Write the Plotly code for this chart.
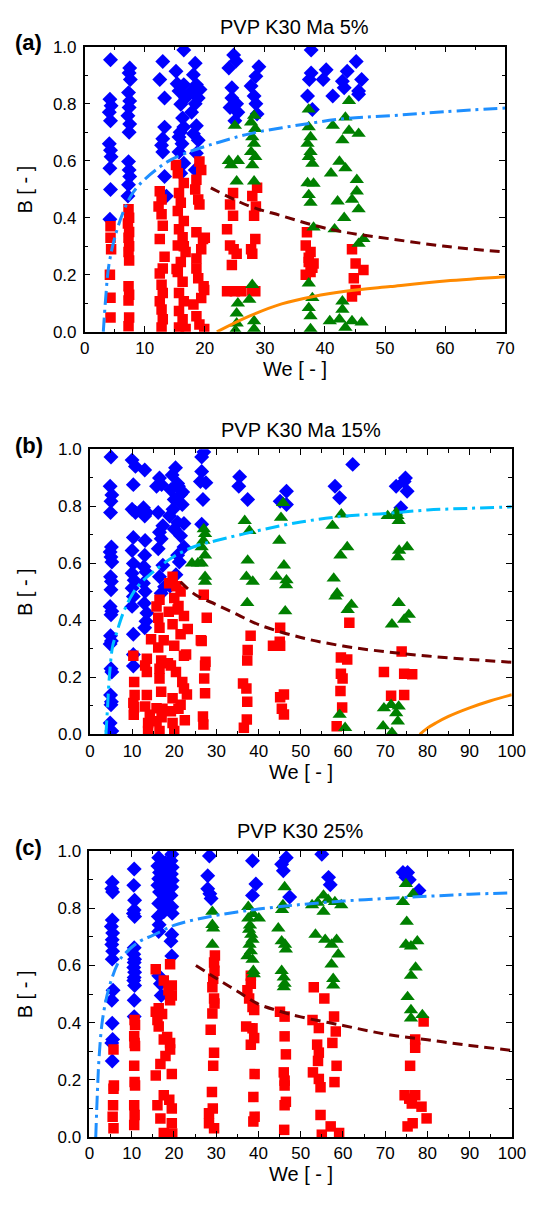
import plotly.graph_objects as go

W, H = 538, 1209
FONT = "Liberation Sans, Arial, sans-serif"

# ---------------- Panel (a): PVP K30 Ma 5% ----------------
a_blue_we = [4.3,4.2,4.4,4.1,4.3,4.1,4.3,4.4,4.2,4.3,4.2,
             7.5,7.4,7.6,7.3,7.5,7.4,7.2,7.5,7.4,7.3,7.4,7.5,7.3,7.2,
             13.0,12.5,13.3,13.3,13.0,12.8,13.0,13.3,13.6,
             16.5,15.2,16.5,15.7,16.8,16.0,16.5,15.7,16.2,15.7,16.5,16.0,15.4,16.3,15.9,
             18.4,18.1,18.6,18.1,18.9,18.4,17.8,18.6,18.1,18.9,18.6,18.4,19.2,17.6,
             24.8,25.2,24.0,24.5,24.5,24.2,25.5,25.0,25.3,
             29.0,28.5,27.7,28.2,28.5,28.7,
             37.7,37.7,37.4,37.1,37.9,
             40.2,39.7,41.3,
             45.2,43.7,42.9,43.2,46.1,45.6,45.6]
a_blue_b = [0.954,0.816,0.793,0.77,0.74,0.66,0.637,0.614,0.574,0.499,0.395,
            0.925,0.908,0.885,0.839,0.81,0.787,0.758,0.729,0.70,0.597,0.568,0.545,0.516,0.476,
            0.948,0.885,0.82,0.718,0.677,0.654,0.631,0.545,0.476,
            0.988,0.914,0.867,0.845,0.82,0.798,0.718,0.683,0.66,0.631,0.591,0.556,0.87,0.75,0.70,
            0.942,0.902,0.867,0.845,0.82,0.80,0.77,0.723,0.695,0.672,0.626,0.568,0.85,0.84,
            0.971,0.95,0.925,0.856,0.82,0.787,0.77,0.74,0.80,
            0.93,0.896,0.862,0.827,0.80,0.764,
            0.988,0.908,0.885,0.827,0.78,
            0.919,0.885,0.827,
            0.948,0.914,0.879,0.856,0.885,0.845,0.833]

a_red_we = [4.3,4.3,4.4,4.2,4.3,4.3,
            7.3,7.4,7.2,7.4,7.3,7.4,7.3,7.4,7.3,7.4,7.3,7.4,7.3,
            12.5,12.8,12.3,12.8,13.0,12.5,13.3,13.0,12.5,12.8,13.0,12.5,12.8,13.0,12.8,
            15.2,15.5,16.5,15.7,16.0,15.5,16.5,15.7,16.3,15.5,16.8,16.0,15.5,16.3,15.7,16.5,15.7,16.3,15.7,16.8,16.5,15.3,
            19.1,19.4,18.6,18.4,18.9,19.1,18.6,19.7,19.4,18.6,18.6,18.9,19.9,19.4,18.1,18.6,19.1,19.9,20.0,19.8,
            24.7,24.2,24.7,23.7,24.2,25.3,24.5,23.7,25.0,26.1,24.8,
            28.7,27.9,28.2,28.4,27.7,27.9,28.4,27.9,28.5,
            37.0,36.8,37.6,37.3,38.1,37.6,36.8,37.3,37.9,
            44.5,45.1,46.4,44.8,45.1,44.5]
a_red_b = [0.37,0.33,0.29,0.20,0.12,0.05,
           0.43,0.40,0.38,0.35,0.33,0.30,0.28,0.25,0.16,0.13,0.11,0.05,0.02,
           0.493,0.464,0.44,0.412,0.372,0.326,0.263,0.222,0.205,0.165,0.136,0.107,0.078,0.044,0.015,
           0.585,0.556,0.522,0.487,0.453,0.424,0.389,0.36,0.332,0.303,0.28,0.245,0.21,0.176,0.136,0.107,0.073,0.044,0.015,0.01,0.30,0.22,
           0.597,0.568,0.533,0.499,0.464,0.447,0.349,0.326,0.29,0.257,0.222,0.188,0.147,0.119,0.096,0.055,0.026,0.01,0.33,0.16,
           0.487,0.447,0.407,0.36,0.303,0.274,0.234,0.142,0.142,0.142,0.29,
           0.505,0.476,0.407,0.326,0.29,0.274,0.142,0.145,0.44,
           0.349,0.303,0.28,0.245,0.24,0.21,0.2,0.26,0.225,
           0.29,0.24,0.217,0.188,0.147,0.124]

a_green_we = [25.0,24.0,25.5,24.4,25.3,25.5,25.3,25.3,25.1,
              28.2,27.7,28.4,27.9,28.2,27.7,28.4,27.9,28.2,27.9,27.4,28.2,28.2,
              37.3,37.3,37.6,37.1,37.6,37.3,37.9,37.1,38.1,37.3,37.6,38.1,37.3,37.9,37.3,37.6,37.6,
              44.0,43.4,41.3,44.0,45.6,42.9,42.4,43.4,41.0,45.3,45.3,44.5,42.1,45.6,43.2,41.6,46.4,45.6,
              40.8,42.4,44.5,46.1,43.4,42.9,42.9]
a_green_b = [0.723,0.60,0.60,0.585,0.528,0.10,0.065,0.03,0.005,
             0.758,0.735,0.712,0.683,0.66,0.631,0.614,0.585,0.528,0.165,0.113,0.038,0.01,
             0.78,0.718,0.683,0.66,0.631,0.614,0.59,0.522,0.52,0.48,0.453,0.366,0.17,0.119,0.084,0.055,0.01,
             0.81,0.752,0.723,0.706,0.695,0.672,0.597,0.574,0.556,0.533,0.493,0.464,0.458,0.43,0.40,0.36,0.326,0.309,
             0.038,0.044,0.038,0.033,0.015,0.107,0.078]

a_lim_we = [3.1,3.5,4,5,6.6,8,10,13.8,16,20,22.5,27.5,35,43,51,60,70]
a_lim_b = [0,0.12,0.23,0.33,0.43,0.487,0.535,0.597,0.62,0.65,0.666,0.695,0.723,0.747,0.758,0.772,0.785]
a_mid_we = [21,22.1,27.4,32.8,38.1,43.4,50.9,60,70]
a_mid_b = [0.505,0.493,0.441,0.407,0.374,0.349,0.326,0.30,0.28]
a_low_we = [22,27.4,32.8,38.1,43.4,50.9,60,70]
a_low_b = [0,0.055,0.098,0.124,0.142,0.159,0.178,0.193]

# ---------------- Panel (b): PVP K30 Ma 15% ----------------
b_blue_we = [5.0,4.8,5.2,5.0,4.9,5.1,4.8,5.0,5.2,4.9,5.1,5.0,4.8,5.2,5.0,4.9,5.1,4.8,5.0,5.2,4.9,5.1,5.0,4.8,5.2,
             10.0,10.8,10.3,10.0,10.8,10.3,10.0,10.3,10.0,10.5,10.0,10.3,10.0,10.3,10.3,10.3,
             13.0,12.7,13.5,13.0,13.1,13.0,12.8,13.3,12.7,13.1,12.9,13.5,13.3,13.0,
             16.5,17.0,16.2,17.3,16.5,16.9,16.2,17.3,16.5,17.7,16.9,15.8,
             19.5,20.8,19.2,21.5,20.0,21.9,18.9,20.8,20.0,21.5,22.3,20.8,21.2,20.3,22.0,21.0,19.7,22.3,20.4,19.0,
             27.0,26.5,26.5,26.2,27.5,26.8,26.5,
             35.5,35.3,37.4,46.6,45.1,46.6,58.1,59.2,62.3,74.8,74.5,72.6,75.2,73.7]
b_blue_b = [0.973,0.87,0.84,0.818,0.778,0.657,0.64,0.622,0.605,0.553,0.536,0.507,0.449,0.432,0.42,0.346,0.328,0.317,0.23,0.219,0.138,0.115,0.104,0.04,0.012,
            0.962,0.94,0.876,0.79,0.778,0.691,0.645,0.599,0.565,0.541,0.513,0.484,0.449,0.351,0.28,0.24,
            0.927,0.795,0.778,0.766,0.68,0.628,0.588,0.57,0.53,0.501,0.46,0.426,0.397,0.374,
            0.899,0.876,0.778,0.732,0.709,0.686,0.651,0.593,0.553,0.518,0.495,0.87,
            0.91,0.88,0.858,0.841,0.824,0.806,0.766,0.743,0.72,0.697,0.657,0.628,0.605,0.935,0.85,0.87,0.79,0.74,0.56,0.52,
            0.99,0.973,0.922,0.887,0.883,0.824,0.737,
            0.904,0.87,0.824,0.853,0.818,0.806,0.87,0.83,0.947,0.899,0.887,0.87,0.853,0.795]

b_red_we = [10.3,10.5,10.6,10.3,10.5,10.4,
            14.5,13.5,13.1,13.5,13.5,13.1,14.2,13.8,13.8,
            16.5,15.8,16.2,16.5,16.2,16.9,16.5,16.5,16.9,15.8,15.8,16.5,17.5,17.2,17.0,
            19.6,18.8,21.5,20.0,20.8,22.3,19.6,21.5,20.0,22.3,19.2,20.4,21.9,22.3,19.6,21.5,19.2,19.6,20.0,
            18.5,21.0,22.5,23.0,23.2,22.8,21.0,18.7,20.5,
            27.0,27.7,26.5,27.3,27.1,27.3,26.8,26.9,26.3,27.4,
            38.1,37.4,37.3,36.3,37.1,37.3,37.2,36.5,
            45.1,43.4,45.1,45.0,46.0,45.1,45.5,46.0,
            61.5,59.5,61.0,59.5,59.9,59.4,59.8,58.5,
            73.9,69.7,74.5,76.4,71.4,74.5]
b_red_b = [0.276,0.184,0.138,0.11,0.095,0.069,
           0.334,0.265,0.242,0.219,0.138,0.098,0.069,0.04,0.012,
           0.472,0.449,0.409,0.374,0.305,0.259,0.23,0.196,0.15,0.092,0.046,0.012,0.33,0.09,0.06,
           0.553,0.53,0.501,0.478,0.438,0.415,0.386,0.351,0.311,0.276,0.242,0.219,0.184,0.161,0.127,0.104,0.081,0.04,0.012,
           0.25,0.09,0.05,0.14,0.37,0.28,0.45,0.43,0.52,
           0.49,0.409,0.328,0.242,0.196,0.144,0.063,0.035,0.33,0.255,
           0.346,0.296,0.259,0.179,0.161,0.115,0.052,0.023,
           0.374,0.311,0.311,0.325,0.14,0.13,0.09,0.07,
           0.392,0.27,0.263,0.213,0.196,0.152,0.094,0.029,
           0.291,0.219,0.213,0.211,0.136,0.138]

b_green_we = [27.3,26.9,26.5,27.3,24.2,26.5,27.3,27.3,25.6,27.0,
              36.7,37.8,37.4,37.1,38.6,37.3,
              45.8,45.3,44.9,46.0,44.2,46.6,46.5,46.3,
              59.6,57.5,61.0,59.4,57.8,58.6,58.2,62.0,61.1,59.2,60.5,
              70.6,72.9,73.2,72.6,75.2,73.3,73.0,73.2,75.6,74.5,71.6,69.7,71.4,73.2,72.6,73.0,69.5,71.6]
b_green_b = [0.703,0.68,0.657,0.628,0.60,0.60,0.553,0.536,0.60,0.72,
             0.749,0.714,0.61,0.553,0.536,0.461,
             0.812,0.76,0.68,0.593,0.553,0.541,0.524,0.432,
             0.772,0.732,0.657,0.628,0.547,0.495,0.484,0.455,0.437,0.069,0.023,
             0.766,0.766,0.749,0.778,0.657,0.645,0.622,0.461,0.42,0.403,0.386,0.092,0.104,0.098,0.075,0.046,0.029,0.006]

b_lim_we = [3.8,4.2,4.6,5.4,6.2,8,10,12,15,20,25,30,40,50,60,70,80,90,100]
b_lim_b = [0,0.1,0.2,0.31,0.35,0.43,0.49,0.53,0.57,0.625,0.66,0.68,0.715,0.745,0.765,0.775,0.787,0.793,0.798]
b_mid_we = [21.5,25,30,35,40,50,60,70,80,90,100]
b_mid_b = [0.535,0.49,0.455,0.42,0.385,0.34,0.31,0.29,0.275,0.263,0.253]
b_low_we = [78.2,80,82,85,90,95,100]
b_low_b = [0,0.022,0.04,0.063,0.093,0.118,0.139]

# ---------------- Panel (c): PVP K30 25% ----------------
c_blue_we = [5.4,5.3,5.5,5.4,5.2,5.5,5.4,5.3,5.5,5.4,5.6,5.3,5.4,5.5,5.3,5.4,
             10.6,10.5,10.7,10.6,10.4,10.7,10.6,10.5,10.7,10.6,10.5,10.7,10.6,10.5,10.7,10.6,10.6,
             16.4,16.2,16.6,16.4,16.2,16.6,16.4,16.3,16.5,16.4,
             18.0,17.8,18.2,18.0,17.9,18.1,
             19.5,19.3,19.6,19.4,19.6,19.5,19.3,19.5,19.6,19.5,19.3,19.5,
             16.4,16.8,17.0,17.6,17.6,
             28.4,28.0,28.0,28.5,28.8,
             38.6,39.4,38.6,45.5,46.6,45.9,47.4,55.0,56.6,57.0,74.2,75.3,74.9,75.7,78.0]
c_blue_b = [0.891,0.868,0.857,0.759,0.736,0.713,0.69,0.673,0.65,0.622,0.513,0.478,0.398,0.341,0.329,0.266,
            0.937,0.88,0.828,0.794,0.782,0.771,0.662,0.639,0.622,0.61,0.593,0.576,0.558,0.547,0.53,0.478,0.421,
            0.977,0.948,0.925,0.903,0.88,0.857,0.817,0.771,0.742,0.719,
            0.96,0.937,0.908,0.885,0.862,0.84,
            0.989,0.966,0.943,0.92,0.897,0.874,0.845,0.805,0.782,0.708,0.685,0.633,
            0.564,0.536,0.495,0.822,0.788,
            0.983,0.914,0.868,0.851,0.834,
            0.966,0.885,0.845,0.954,0.977,0.931,0.839,0.989,0.908,0.882,0.925,0.925,0.908,0.90,0.862]

c_red_we = [5.7,5.8,5.7,5.6,5.5,5.7,
            10.7,10.8,10.6,10.7,10.8,10.6,10.7,10.8,10.6,10.7,10.6,
            19.1,15.7,17.6,19.5,18.7,19.5,19.1,16.4,15.7,16.1,16.4,17.6,19.1,19.1,18.0,16.8,15.7,19.5,17.6,16.1,19.5,16.8,19.5,17.6,18.4,17.2,18.9,19.6,
            29.7,29.5,29.6,29.3,29.1,29.5,29.6,29.1,28.7,29.5,29.3,29.0,29.2,28.3,28.3,29.5,
            38.2,38.2,37.4,37.8,38.6,39.0,37.1,38.6,39.0,38.2,39.1,38.8,39.1,38.8,
            45.1,46.2,46.2,46.5,46.0,46.2,46.2,46.5,46.2,46.1,
            53.1,55.6,57.9,52.8,54.3,58.3,57.5,53.9,54.3,54.1,58.5,52.9,54.3,54.7,58.0,54.7,57.1,55.0,59.1,
            79.1,77.1,77.1,75.9,74.6,77.1,75.7,76.3,78.6,79.8,76.5,75.3]
c_red_b = [0.306,0.18,0.169,0.111,0.071,0.031,
           0.409,0.392,0.352,0.329,0.318,0.249,0.192,0.18,0.111,0.077,0.042,
           0.604,0.587,0.547,0.53,0.513,0.495,0.478,0.45,0.438,0.409,0.386,0.341,0.329,0.306,0.283,0.255,0.215,0.22,0.146,0.111,0.10,0.065,0.048,0.014,0.35,0.43,0.13,0.012,
           0.635,0.61,0.581,0.553,0.524,0.484,0.467,0.432,0.375,0.295,0.249,0.157,0.10,0.083,0.048,0.031,
           0.564,0.536,0.513,0.484,0.455,0.444,0.386,0.38,0.346,0.323,0.22,0.14,0.071,0.054,
           0.438,0.421,0.352,0.289,0.226,0.197,0.18,0.123,0.111,0.025,
           0.524,0.484,0.421,0.409,0.381,0.369,0.329,0.323,0.295,0.266,0.249,0.226,0.203,0.174,0.192,0.077,0.037,0.008,0.014,
           0.404,0.341,0.312,0.249,0.146,0.146,0.134,0.117,0.106,0.065,0.048,0.037]

c_green_we = [29.1,29.1,29.3,29.1,
              37.6,38.7,37.6,40.1,37.8,38.3,38.6,37.9,38.2,37.4,38.6,38.8,38.9,38.0,
              46.2,45.8,45.6,44.7,45.5,46.3,46.5,45.5,46.0,46.2,46.0,
              55.4,58.1,52.7,59.6,55.4,53.5,55.8,57.3,58.5,58.9,57.3,57.7,57.7,54.0,56.5,
              74.9,74.2,75.1,74.9,77.6,76.1,77.2,76.1,75.3,76.1,76.1,78.8,76.6]
c_green_b = [0.788,0.742,0.73,0.673,
             0.805,0.78,0.765,0.765,0.725,0.708,0.69,0.673,0.65,0.633,0.62,0.581,0.57,0.74,
             0.874,0.811,0.794,0.73,0.685,0.673,0.656,0.581,0.558,0.536,0.524,
             0.845,0.822,0.811,0.811,0.788,0.708,0.69,0.673,0.69,0.639,0.604,0.553,0.53,0.82,0.83,
             0.885,0.822,0.753,0.673,0.685,0.667,0.593,0.564,0.49,0.444,0.415,0.427,0.85]

c_lim_we = [1.5,1.9,2.3,3.1,4.6,7,9,12,15,20,25,30,35,40,50,60,70,80,90,100]
c_lim_b = [0,0.16,0.28,0.41,0.52,0.615,0.65,0.685,0.705,0.74,0.76,0.775,0.787,0.797,0.813,0.825,0.834,0.842,0.849,0.854]
c_mid_we = [25.2,30,35,40,45,50,60,70,80,90,100]
c_mid_b = [0.60,0.555,0.51,0.465,0.44,0.42,0.39,0.36,0.34,0.32,0.303]

titles = ["PVP K30 Ma 5%", "PVP K30 Ma 15%", "PVP K30 25%"]
labels = ["(a)", "(b)", "(c)"]
xmaxes = [70, 100, 100]
# pixel boxes: (left, right, top, bottom)
boxes = [(82.6, 518.5, 38.3, 328.0), (88.0, 525.3, 447.3, 737.0), (87.5, 525.5, 855.5, 1146.0)]
lim_colors = ["#1E8FFF", "#00BFFF", "#1E8FFF"]

panel_data = [
    dict(blue=(a_blue_we, a_blue_b), red=(a_red_we, a_red_b), green=(a_green_we, a_green_b),
         lim=(a_lim_we, a_lim_b), mid=(a_mid_we, a_mid_b), low=(a_low_we, a_low_b)),
    dict(blue=(b_blue_we, b_blue_b), red=(b_red_we, b_red_b), green=(b_green_we, b_green_b),
         lim=(b_lim_we, b_lim_b), mid=(b_mid_we, b_mid_b), low=(b_low_we, b_low_b)),
    dict(blue=(c_blue_we, c_blue_b), red=(c_red_we, c_red_b), green=(c_green_we, c_green_b),
         lim=(c_lim_we, c_lim_b), mid=(c_mid_we, c_mid_b), low=None),
]

fig = go.Figure()
annotations = []
for i, (pd_, box) in enumerate(zip(panel_data, boxes)):
    n = "" if i == 0 else str(i + 1)
    xa, ya = "x" + n, "y" + n
    l, r, t, b = box
    fig.add_trace(go.Scatter(x=pd_["blue"][0], y=pd_["blue"][1], mode="markers", xaxis=xa, yaxis=ya,
                             marker=dict(symbol="diamond", size=11.5, color="#0000FF", line=dict(width=0))))
    fig.add_trace(go.Scatter(x=pd_["red"][0], y=pd_["red"][1], mode="markers", xaxis=xa, yaxis=ya,
                             marker=dict(symbol="square", size=10.5, color="#FF0000", line=dict(width=0))))
    fig.add_trace(go.Scatter(x=pd_["green"][0], y=pd_["green"][1], mode="markers", xaxis=xa, yaxis=ya,
                             marker=dict(symbol="triangle-up", size=12.5, color="#008000", line=dict(width=0))))
    fig.add_trace(go.Scatter(x=pd_["lim"][0], y=pd_["lim"][1], mode="lines", xaxis=xa, yaxis=ya,
                             line=dict(color=lim_colors[i], width=3, dash="14px,5px,3px,5px", shape="spline")))
    fig.add_trace(go.Scatter(x=pd_["mid"][0], y=pd_["mid"][1], mode="lines", xaxis=xa, yaxis=ya,
                             line=dict(color="#700000", width=3, dash="10px,6px", shape="spline")))
    if pd_["low"] is not None:
        fig.add_trace(go.Scatter(x=pd_["low"][0], y=pd_["low"][1], mode="lines", xaxis=xa, yaxis=ya,
                                 line=dict(color="#FF8A00", width=3, shape="spline")))
    axcommon = dict(showline=True, linecolor="black", linewidth=1.5, mirror="ticks", ticks="inside",
                    ticklen=6, tickwidth=1.2, tickcolor="black", showgrid=False, zeroline=False,
                    tickfont=dict(family=FONT, size=17, color="black"))
    fig.update_layout(**{
        "xaxis" + n: dict(domain=[l / W, r / W], range=[0, xmaxes[i]], dtick=10, tick0=0,
                          anchor=ya, minor=dict(ticks="inside", ticklen=3.5, dtick=5, tickwidth=1.2,
                                                tickcolor="black", showgrid=False), **axcommon),
        "yaxis" + n: dict(domain=[1 - b / H, 1 - t / H], range=[0, 1], dtick=0.2, tick0=0,
                          tickformat=".1f", anchor=xa, ticklabelstandoff=3,
                          minor=dict(ticks="inside", ticklen=3.5, dtick=0.1, tickwidth=1.2,
                                     tickcolor="black", showgrid=False), **axcommon),
    })
    annotations.append(dict(text=titles[i], x=((l + r) / 2) / W, y=1 - (t - 20) / H, xref="paper",
                            yref="paper", showarrow=False, xanchor="center", yanchor="middle",
                            font=dict(family=FONT, size=20, color="black")))
    annotations.append(dict(text="<b>" + labels[i] + "</b>", x=8 / W, y=1 - (t - 4) / H, xref="paper",
                            yref="paper", showarrow=False, xanchor="left", yanchor="middle",
                            font=dict(family=FONT, size=22, color="black")))
    annotations.append(dict(text="B [ - ]", x=21 / W, y=1 - ((t + b) / 2) / H, xref="paper",
                            yref="paper", showarrow=False, xanchor="center", yanchor="middle",
                            textangle=-90, font=dict(family=FONT, size=20, color="black")))
    annotations.append(dict(text="We [ - ]", x=((l + r) / 2) / W, y=1 - (b + 38) / H, xref="paper",
                            yref="paper", showarrow=False, xanchor="center", yanchor="middle",
                            font=dict(family=FONT, size=20, color="black")))

fig.update_layout(width=W, height=H, margin=dict(l=0, r=0, t=0, b=0), showlegend=False,
                  paper_bgcolor="white", plot_bgcolor="white", annotations=annotations,
                  font=dict(family=FONT, color="black"))
fig.write_html("out.html")
